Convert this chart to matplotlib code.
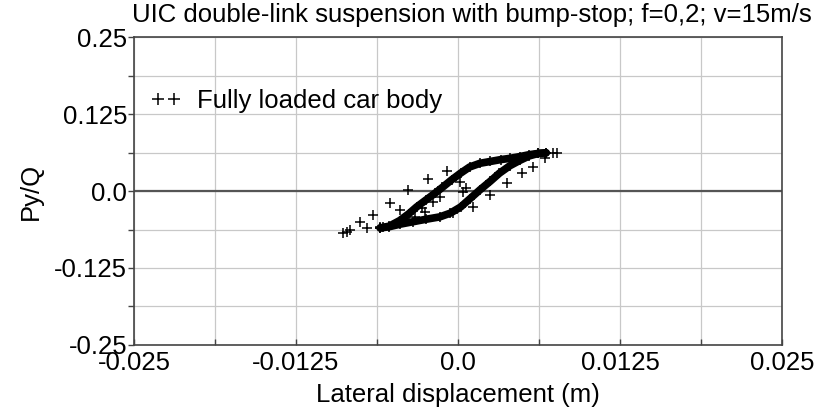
import numpy as np
import matplotlib.pyplot as plt
from matplotlib.ticker import MultipleLocator

plt.rcParams['font.family'] = ['Liberation Sans', 'DejaVu Sans']

# hysteresis loop, upper branch (loading) and lower branch (unloading)
up_x = [-0.0060, -0.0053, -0.0045, -0.0038, -0.0032, -0.0025, -0.0018, -0.0012, -0.0005,
        0.0002, 0.0009, 0.0017, 0.0025, 0.0033, 0.0040, 0.0048, 0.0055, 0.0062, 0.0068]
up_y = [-0.060, -0.057, -0.048, -0.037, -0.026, -0.015, -0.004, 0.006, 0.018,
        0.029, 0.039, 0.045, 0.048, 0.051, 0.053, 0.056, 0.059, 0.061, 0.062]
lo_x = [-0.0060, -0.0053, -0.0045, -0.0035, -0.0025, -0.0014, -0.0006, 0.0002, 0.0009,
        0.0017, 0.0025, 0.0032, 0.0040, 0.0048, 0.0055, 0.0062, 0.0068]
lo_y = [-0.060, -0.058, -0.054, -0.050, -0.046, -0.042, -0.036, -0.026, -0.013,
        0.002, 0.016, 0.029, 0.041, 0.050, 0.057, 0.061, 0.062]

# scattered samples around the loop
sc_x = [-0.00885, -0.00860, -0.00833, -0.00756, -0.00705, -0.00653, -0.00602, -0.00576,
        -0.00525, -0.00448, -0.00383, -0.00255, -0.00229, -0.00190, -0.00140, -0.00088,
        -0.00037, 0.00015, 0.00040, 0.00118, 0.00247, 0.00376, 0.00490, 0.00580,
        0.00670, 0.00735, 0.00760, -0.00330, -0.00280, 0.00060]
sc_y = [-0.0687, -0.0660, -0.0633, -0.0498, -0.0606, -0.0390, -0.0580, -0.0580,
        -0.0200, -0.0310, 0.0016, -0.0336, 0.0190, -0.0174, -0.0093, 0.0330,
        -0.0362, 0.0151, -0.0011, -0.0265, -0.0065, 0.0125, 0.0287, 0.0395,
        0.0530, 0.0622, 0.0622, -0.0420, -0.0280, 0.0050]

fig = plt.figure(figsize=(8.25, 4.16), dpi=100)
ax = fig.add_axes([0.1624, 0.1707, 0.7855, 0.7403])

ax.plot(up_x, up_y, color='black', lw=5.5, solid_capstyle='round', zorder=3)
ax.plot(lo_x, lo_y, color='black', lw=5.5, solid_capstyle='round', zorder=3)
ax.plot(up_x + lo_x + sc_x, up_y + lo_y + sc_y, '+', color='black', ms=7, mew=1.1,
        zorder=4, label='Fully loaded car body')

ax.axhline(0, color='#555555', lw=1.6, zorder=2)

ax.set_xlim(-0.025, 0.025)
ax.set_ylim(-0.25, 0.25)
ax.xaxis.set_minor_locator(MultipleLocator(0.00625))
ax.yaxis.set_minor_locator(MultipleLocator(0.0625))
ax.set_xticks([-0.025, -0.0125, 0.0, 0.0125, 0.025])
ax.set_xticklabels(['-0.025', '-0.0125', '0.0', '0.0125', '0.025'])
ax.set_yticks([-0.25, -0.125, 0.0, 0.125, 0.25])
ax.set_yticklabels(['-0.25', '-0.125', '0.0', '0.125', '0.25'])
ax.grid(True, which='both', color='#c8c8c8', lw=0.9, zorder=1)
ax.set_axisbelow(True)

ax.tick_params(which='both', direction='out', length=4, width=1, color='#444444',
               labelsize=18.5, pad=1)
ax.tick_params(axis='x', which='both', direction='in', pad=4)
for s in ax.spines.values():
    s.set_color('#444444')
    s.set_linewidth(1.2)

ax.set_xlabel('Lateral displacement (m)', fontsize=18.5, labelpad=6)
ax.set_ylabel('Py/Q', fontsize=18.5, labelpad=8)
fig.text(0.572, 0.963, 'UIC double-link suspension with bump-stop; f=0,2; v=15m/s',
         ha='center', va='center', fontsize=18.5)

ax.legend(loc='upper left', bbox_to_anchor=(-0.01, 0.905), frameon=False, numpoints=2,
          handlelength=1.2, handletextpad=0.6, fontsize=18.5, markerscale=1.2)

fig.savefig('out.png', dpi=100)
